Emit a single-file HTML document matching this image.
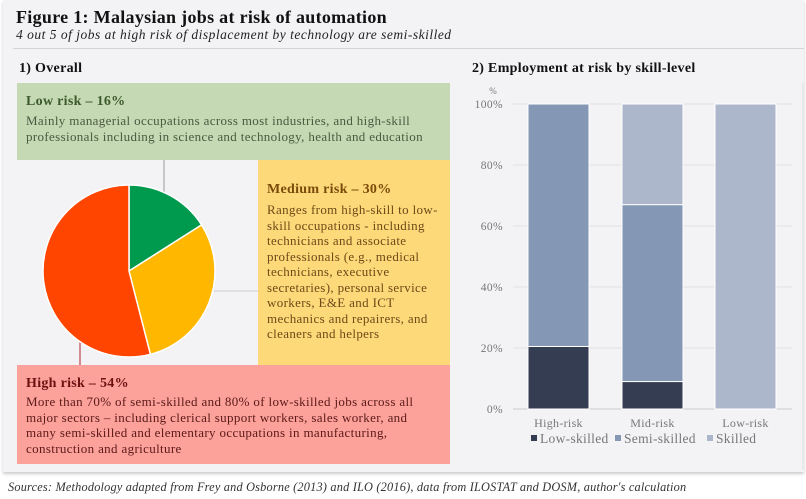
<!DOCTYPE html>
<html><head><meta charset="utf-8"><style>
body{margin:0;width:806px;height:499px;background:#fff;font-family:"Liberation Serif",serif;position:relative;overflow:hidden}
.panel{position:absolute;left:3px;top:0;width:801px;height:472px;background:#f3f2f5;box-shadow:0 2px 3px #ccc}
.abs{position:absolute}
h1{position:absolute;left:16px;top:7px;margin:0;font-size:18px;font-weight:bold;color:#111;letter-spacing:0.3px}
.sub{left:16px;top:27px;font-size:13.5px;font-style:italic;color:#222;letter-spacing:0.5px}
.box{position:absolute;box-sizing:border-box;padding:0 9px}
.box b{display:block;font-size:14px;letter-spacing:0.3px}
.box p{margin:0;font-size:13px;line-height:15.5px;letter-spacing:0.35px}
</style></head><body>
<div class="panel"></div>
<h1>Figure 1: Malaysian jobs at risk of automation</h1>
<div class="abs sub">4 out 5 of jobs at high risk of displacement by technology are semi-skilled</div>
<div class="abs" style="left:13px;top:48px;width:791px;height:1px;background:#d4d4d8"></div>
<div class="abs" style="left:19px;top:61px;font-size:14px;font-weight:bold;color:#111;letter-spacing:0.3px">1) Overall</div>
<div class="abs" style="left:472px;top:61px;font-size:14px;font-weight:bold;color:#111;letter-spacing:0.3px">2) Employment at risk by skill-level</div>

<div class="box" style="left:17px;top:83px;width:433px;height:77px;background:#c5d9b4;padding-top:11px"><b style="color:#3d5a2c">Low risk – 16%</b><p style="color:#4a5a40;margin-top:3px">Mainly managerial occupations across most industries, and high-skill<br>professionals including in science and technology, health and education</p></div>
<div class="box" style="left:258px;top:160px;width:192px;height:205px;background:#fed97a;padding-top:22px"><b style="color:#7a4a0a">Medium risk – 30%</b><p style="color:#6d4a17;margin-top:4px">Ranges from high-skill to low-<br>skill occupations - including<br>technicians and associate<br>professionals (e.g., medical<br>technicians, executive<br>secretaries), personal service<br>workers, E&amp;E and ICT<br>mechanics and repairers, and<br>cleaners and helpers</p></div>
<div class="box" style="left:17px;top:365px;width:433px;height:99px;background:#fda19b;padding-top:11px"><b style="color:#6e1111">High risk – 54%</b><p style="color:#5a1a18;margin-top:2px">More than 70% of semi-skilled and 80% of low-skilled jobs across all<br>major sectors – including clerical support workers, sales worker, and<br>many semi-skilled and elementary occupations in manufacturing,<br>construction and agriculture</p></div>

<svg class="abs" style="left:0;top:0" width="806" height="499">
<line x1="164" y1="160" x2="164" y2="193" stroke="#999"/>
<line x1="214" y1="291" x2="258" y2="291" stroke="#ccc"/>
<line x1="80" y1="338" x2="80" y2="365" stroke="#b0202a"/>
<g id="pie"></g>
<g id="bars"></g>
<line x1="803" y1="83" x2="803" y2="470" stroke="#ddd"/>
</svg>
<div class="abs" style="left:8px;top:480px;font-size:12.3px;font-style:italic;color:#333;letter-spacing:0.2px;white-space:nowrap">Sources: Methodology adapted from Frey and Osborne (2013) and ILO (2016), data from ILOSTAT and DOSM, author's calculation</div>
<script>
const pieLabels=["Low risk","Medium risk","High risk"];
const pieValues=[16,30,54];
const pieColors=["#009a4e","#ffb700","#ff4500"];
const categories=["High-risk","Mid-risk","Low-risk"];
const seriesNames=["Low-skilled","Semi-skilled","Skilled"];
const lowSkilled=[20.5,9,0];
const semiSkilled=[79.5,58,0];
const skilled=[0,33,100];
const yTicks=[0,20,40,60,80,100];
const seriesColors=["#343d52","#8497b4","#adb7cb"];
const NS="http://www.w3.org/2000/svg";
function mk(t,a,p){const e=document.createElementNS(NS,t);for(const k in a)e.setAttribute(k,a[k]);p.appendChild(e);return e;}
const pie=document.getElementById('pie');const cx=129,cy=271,r=86;
let tot=pieValues.reduce((a,b)=>a+b,0),acc=0;
pieValues.forEach((v,i)=>{const a0=acc/tot*2*Math.PI;acc+=v;const a1=acc/tot*2*Math.PI;
const x0=cx+r*Math.sin(a0),y0=cy-r*Math.cos(a0),x1=cx+r*Math.sin(a1),y1=cy-r*Math.cos(a1);
const p=mk('path',{d:`M${cx},${cy}L${x0},${y0}A${r},${r} 0 ${a1-a0>Math.PI?1:0} 1 ${x1},${y1}Z`,fill:pieColors[i],stroke:'#fff','stroke-width':1.5},pie);

});
const g=document.getElementById('bars');
const X0=513,X1=792,Y0=409,Y1=104;
const y=v=>Y0-(v/100)*(Y0-Y1);
const band=(X1-X0)/categories.length,bw=61;
const bx=i=>X0+band*i+(band-bw)/2+(i==0?-1:0);
yTicks.forEach(t=>{const l=mk('line',{x1:X0,x2:X1,y1:y(t),y2:y(t),stroke:t==0?'#ccc':'#e0e0e3'},g);

const tx=mk('text',{x:503,y:y(t)+4,'text-anchor':'end','font-size':11.5,fill:'#777','letter-spacing':0.4},g);tx.textContent=t+'%';
});
const pc=mk('text',{x:493,y:94,'font-size':9,fill:'#777','text-anchor':'middle'},g);pc.textContent='%';

const series=[lowSkilled,semiSkilled,skilled];
categories.forEach((c,i)=>{let base=0;series.forEach((s,j)=>{const v=s[i];if(v>0){
const rc=mk('rect',{x:bx(i),y:y(base+v),width:bw,height:y(base)-y(base+v),fill:seriesColors[j],stroke:'#fff','stroke-width':1},g);

}base+=v;});
const t=mk('text',{x:bx(i)+bw/2,y:427,'text-anchor':'middle','font-size':12,fill:'#777','letter-spacing':0.3},g);t.textContent=c;
});
const lx=[531,615,707];
seriesNames.forEach((n,j)=>{const r=mk('rect',{x:lx[j],y:435,width:6,height:6,fill:seriesColors[j]},g);

const t=mk('text',{x:lx[j]+9,y:443,'font-size':13.5,fill:'#777','letter-spacing':0.3},g);t.textContent=n;
});
</script>
</body></html>
